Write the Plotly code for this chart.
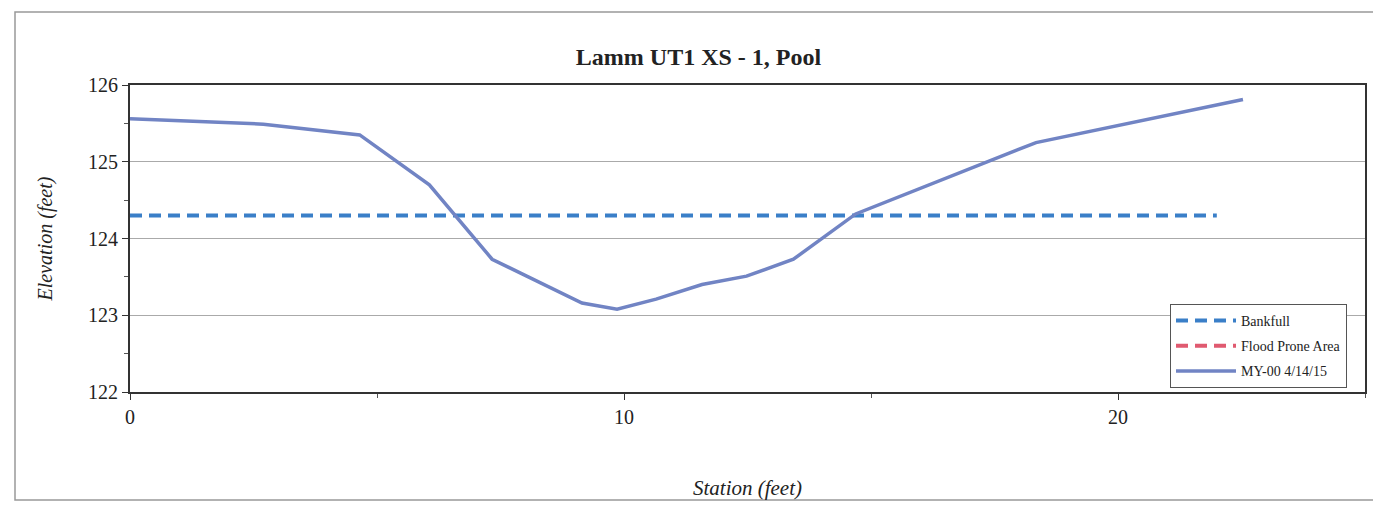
import plotly.graph_objects as go

# Data (deskewed)
station_my00 = [0, 2.7, 4.65, 6.06, 7.33, 9.15, 9.86, 10.65, 11.58, 12.48, 13.43, 14.69, 18.34, 22.53]
elev_my00 = [125.56, 125.49, 125.35, 124.70, 123.73, 123.16, 123.08, 123.21, 123.40, 123.51, 123.73, 124.32, 125.25, 125.81]

station_bankfull = [0, 22.0]
elev_bankfull = [124.30, 124.30]

station_flood = [None]
elev_flood = [None]

title_text = "Lamm UT1 XS - 1, Pool"
x_title = "Station (feet)"
y_title = "Elevation (feet)"

serif = "Liberation Serif, Times New Roman, serif"

fig = go.Figure()
fig.add_trace(go.Scatter(x=station_bankfull, y=elev_bankfull, mode="lines", name="Bankfull",
                         legendgroup="a",
                         line=dict(color="#3A7FC8", width=4, dash="12px,7px")))
fig.add_trace(go.Scatter(x=station_flood, y=elev_flood, mode="lines", name="Flood Prone Area",
                         legendgroup="b",
                         line=dict(color="#E05A70", width=4, dash="12px,7px")))
fig.add_trace(go.Scatter(x=station_my00, y=elev_my00, mode="lines", name="MY-00 4/14/15",
                         legendgroup="c",
                         line=dict(color="#7184C4", width=3.5)))

fig.update_layout(
    width=1381, height=516,
    margin=dict(l=122, r=24, t=77, b=132, autoexpand=False),
    paper_bgcolor="white", plot_bgcolor="white",
    title=dict(text="<b>" + title_text + "</b>", x=0.5, xanchor="center", y=0.905, yanchor="middle",
               font=dict(family=serif, size=24, color="#222")),
    font=dict(family=serif, color="#222"),
    showlegend=True,
    legend=dict(x=(1170 - 130) / 1235, y=(392 - 388) / 307, xanchor="left", yanchor="bottom",
                bgcolor="white", bordercolor="#555", borderwidth=1,
                font=dict(family=serif, size=14, color="#222"),
                traceorder="grouped", tracegroupgap=4, itemwidth=60),
    shapes=[dict(type="rect", xref="paper", yref="paper",
                 x0=(15 - 130) / 1235, x1=(1375 - 130) / 1235,
                 y0=(392 - 500) / 307, y1=(392 - 12) / 307,
                 line=dict(color="#999", width=1.5), layer="below")],
)

fig.update_xaxes(range=[0, 25], dtick=10, tick0=0, automargin=False,
                 showgrid=False, zeroline=False,
                 showline=True, mirror=True, linecolor="#333", linewidth=2,
                 ticks="outside", ticklen=6, tickcolor="#333",
                 minor=dict(dtick=5, ticks="outside", ticklen=4, tickcolor="#555", showgrid=False),
                 tickfont=dict(family=serif, size=20, color="#222"),
                 title=dict(text="<i>" + x_title + "</i>", standoff=53,
                            font=dict(family=serif, size=21, color="#222")))
fig.update_yaxes(range=[122, 126], dtick=1, automargin=False,
                 showgrid=True, gridcolor="#aaa", gridwidth=1, zeroline=False,
                 showline=True, mirror=True, linecolor="#333", linewidth=2,
                 ticks="outside", ticklen=6, tickcolor="#333",
                 minor=dict(dtick=0.5, ticks="outside", ticklen=4, tickcolor="#555", showgrid=False),
                 tickfont=dict(family=serif, size=20, color="#222"),
                 title=dict(text="<i>" + y_title + "</i>", standoff=30,
                            font=dict(family=serif, size=20, color="#222")))

fig.write_html("out.html")
